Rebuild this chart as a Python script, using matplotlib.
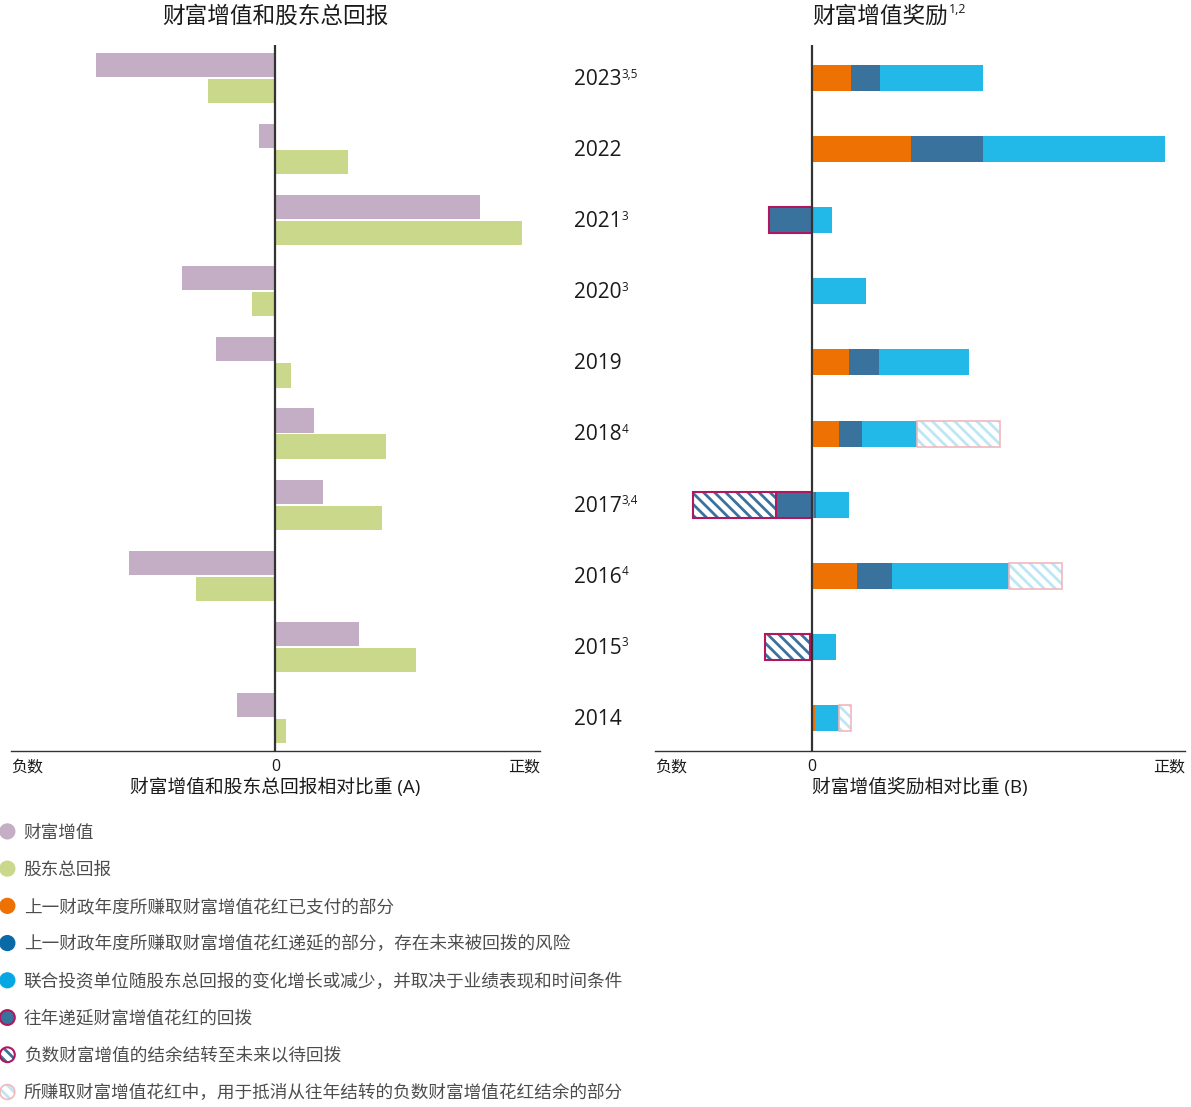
import numpy as np
import matplotlib.pyplot as plt
from matplotlib.patches import Patch, Circle
from matplotlib.legend_handler import HandlerPatch, HandlerTuple

plt.rcParams['font.family'] = ['Open Sans', 'Noto Sans CJK SC', 'DejaVu Sans']
plt.rcParams['hatch.linewidth'] = 2.0

# 年份（自上而下）及脚注
years = ['2023', '2022', '2021', '2020', '2019', '2018', '2017', '2016', '2015', '2014']
notes = ['3,5', '', '3', '3', '', '4', '3,4', '4', '3', '']

# 左图：相对比重 (A)
wealth = [-180, -17, 205, -94, -60, 39, 48, -147, 84, -39]
tsr = [-68, 73, 247, -24, 16, 111, 107, -80, 141, 11]

# 右图：相对比重 (B)
paid = [39, 99, 0, 0, 37, 27, 2, 45, 0, 3]
deferred = [29, 72, 0, 0, 30, 23, 2, 35, 0, 0]
units = [103, 182, 20, 54, 90, 55, 33, 117, 24, 24]
offset = [0, 0, 0, 0, 0, 83, 0, 53, 0, 12]
clawback = [0, 0, -43, 0, 0, 0, -36, 0, -2, 0]
carried = [0, 0, 0, 0, 0, 0, -83, 0, -45, 0]

c_wealth = '#C3AEC6'
c_tsr = '#C9D88B'
c_paid = '#EE7203'
c_def = '#3A729E'
c_units = '#22B8E8'
c_claw = '#B0175E'
c_light = '#BDE6F4'
c_pink = '#F2B8BC'
txt = '#1a1a1a'
HATCH = '\\\\\\'

fig = plt.figure(figsize=(11.91, 11.07), dpi=100)
axA = fig.add_axes([0.0092, 0.3216, 0.4442, 0.6378])
axB = fig.add_axes([0.55, 0.3216, 0.445, 0.6378])

y = np.arange(len(years))

# ---- 左图
axA.barh(y - 0.183, wealth, height=0.34, color=c_wealth)
axA.barh(y + 0.183, tsr, height=0.34, color=c_tsr)
axA.set_xlim(-265, 265)

# ---- 右图
def seg(ax, vals, left, **kw):
    vals = np.asarray(vals, float)
    left = np.asarray(left, float)
    m = vals != 0
    ax.barh(y[m], vals[m], left=left[m], height=0.366, **kw)

zero = np.zeros(len(years))
p = np.array(paid, float)
d = np.array(deferred, float)
u = np.array(units, float)
cb = np.array(clawback, float)

seg(axB, paid, zero, color=c_paid, linewidth=0)
seg(axB, deferred, p, color=c_def, linewidth=0)
seg(axB, units, p + d, color=c_units, linewidth=0)
# 抵消结转负数的部分
seg(axB, offset, p + d + u, facecolor='white', edgecolor=c_light, hatch=HATCH, linewidth=0)
seg(axB, offset, p + d + u, fill=False, edgecolor=c_pink, linewidth=1.2)
# 回拨
seg(axB, clawback, zero, facecolor=c_def, edgecolor=c_claw, linewidth=1.5)
# 结转至未来的负数
seg(axB, carried, cb, facecolor='white', edgecolor=c_def, hatch=HATCH, linewidth=0)
seg(axB, carried, cb, fill=False, edgecolor=c_claw, linewidth=1.5)
axB.set_xlim(-157, 373)

for ax, label in [(axA, '财富增值和股东总回报相对比重 (A)'),
                  (axB, '财富增值奖励相对比重 (B)')]:
    lo, hi = ax.get_xlim()
    ax.set_ylim(len(years) - 0.535, -0.465)
    ax.axvline(0, color='#333333', linewidth=1.6, zorder=5)
    for s in ['top', 'right', 'left']:
        ax.spines[s].set_visible(False)
    ax.spines['bottom'].set_color('#333333')
    ax.spines['bottom'].set_linewidth(1.0)
    ax.set_yticks([])
    ax.set_xticks([lo, 0, hi])
    ax.set_xticklabels(['负数', '0', '正数'], fontsize=11.5, color=txt)
    ax.tick_params(axis='x', length=0, pad=6)
    tl = ax.get_xticklabels()
    tl[0].set_ha('left')
    tl[2].set_ha('right')
    ax.set_xlabel(label, fontsize=13.5, color=txt, labelpad=2)

axA.text(0, 1.04, '财富增值和股东总回报', transform=axA.get_xaxis_transform(),
         ha='center', va='center', fontsize=16.3, color=txt)
t = axB.text(0, 1.04, '财富增值奖励', transform=axB.get_xaxis_transform(),
             ha='left', va='center', fontsize=16.3, color=txt)
axB.annotate('1,2', xy=(1, 1), xycoords=t, xytext=(1, 1), textcoords='offset points',
             ha='left', va='top', fontsize=9, color=txt)

# 年份标签
for i, (yr, nt) in enumerate(zip(years, notes)):
    lab = axB.text(-0.153, i + 0.02, yr, transform=axB.get_yaxis_transform(),
                   ha='left', va='center', fontsize=15, color=txt)
    if nt:
        axB.annotate(nt, xy=(1, 1), xycoords=lab, xytext=(0, 1),
                     textcoords='offset points', ha='left', va='top',
                     fontsize=8.5, color=txt)

# ---- 图例
class HandlerCircle(HandlerPatch):
    def create_artists(self, legend, orig_handle, xdescent, ydescent,
                       width, height, fontsize, trans):
        r = 0.42 * fontsize
        c = Circle((width / 2 - xdescent, height / 2 - ydescent), r)
        self.update_prop(c, orig_handle, legend)
        c.set_transform(trans)
        return [c]

hc = HandlerCircle()
handles = [
    Patch(color=c_wealth),
    Patch(color=c_tsr),
    Patch(color=c_paid),
    Patch(color='#0A6AA8'),
    Patch(color='#07A7E3'),
    Patch(facecolor=c_def, edgecolor=c_claw, linewidth=1.5),
    (Patch(facecolor='white', edgecolor=c_def, hatch=HATCH, linewidth=0),
     Patch(fill=False, edgecolor=c_claw, linewidth=1.5)),
    (Patch(facecolor='white', edgecolor=c_light, hatch=HATCH, linewidth=0),
     Patch(fill=False, edgecolor=c_pink, linewidth=1.2)),
]
labels = ['财富增值', '股东总回报', '上一财政年度所赚取财富增值花红已支付的部分',
          '上一财政年度所赚取财富增值花红递延的部分，存在未来被回拨的风险',
          '联合投资单位随股东总回报的变化增长或减少，并取决于业绩表现和时间条件',
          '往年递延财富增值花红的回拨', '负数财富增值的结余结转至未来以待回拨',
          '所赚取财富增值花红中，用于抵消从往年结转的负数财富增值花红结余的部分']
fig.legend(handles, labels, loc='upper left', bbox_to_anchor=(-0.009, 0.264),
           frameon=False, fontsize=12.7, labelcolor='#4d4d4d', borderpad=0,
           handlelength=1.05, handletextpad=0.4, labelspacing=1.09,
           handler_map={Patch: hc, tuple: HandlerTuple(ndivide=1, pad=0)})

fig.savefig('out.png', dpi=100)
